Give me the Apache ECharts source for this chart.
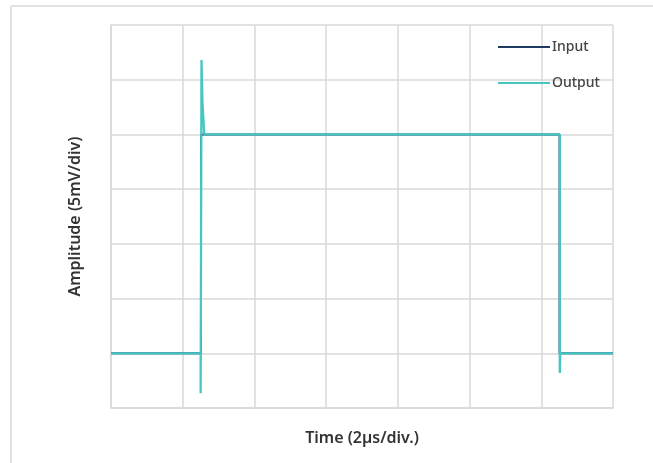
<!DOCTYPE html>
<html>
<head>
<meta charset="utf-8">
<script src="https://cdn.jsdelivr.net/npm/echarts@6/dist/echarts.min.js"></script>
<style>
html,body{margin:0;padding:0;background:#fff;}
#chart{width:653px;height:463px;}
</style>
</head>
<body>
<div id="chart"></div>
<script>
// Time in divisions (2 µs/div), amplitude in divisions (5 mV/div)
const inputTime  = [0, 1.255, 1.255, 6.255, 6.255, 7];
const inputAmp   = [1, 1, 5, 5, 1, 1];
const outputTime = [0, 1.25, 1.25, 1.262, 1.275, 1.30, 6.258, 6.258, 6.264, 6.267, 7];
const outputAmp  = [1, 1, 0.27, 6.36, 5.6, 5, 5, 0.64, 1, 1, 1];
const seriesNames = ['Input', 'Output'];
const xTitle = 'Time (2µs/div.)';
const yTitle = 'Amplitude (5mV/div)';

const pairs = (xs, ys) => xs.map((x, i) => [x, ys[i]]);
const grey = '#d9d9d9';
const chart = echarts.init(document.getElementById('chart'), null, {renderer: 'canvas'});
chart.setOption({
  animation: false,
  backgroundColor: '#ffffff',
  graphic: [
    {type: 'line', shape: {x1: 11, y1: 6, x2: 653, y2: 6}, style: {stroke: grey, lineWidth: 1.5}},
    {type: 'line', shape: {x1: 11, y1: 6, x2: 11, y2: 463}, style: {stroke: grey, lineWidth: 1.5}}
  ],
  legend: {
    orient: 'vertical',
    left: 493,
    top: 35,
    itemWidth: 52,
    itemHeight: 10,
    itemGap: 22,
    icon: 'path://M0,4 L52,4 L52,6 L0,6 Z',
    textStyle: {fontFamily: 'Noto Sans', fontSize: 14, fontWeight: 500, color: '#444', padding: [0, 0, 0, -3]},
    data: seriesNames
  },
  grid: {left: 111, right: 40, top: 25, bottom: 55},
  xAxis: {
    type: 'value', min: 0, max: 7, interval: 1,
    name: xTitle, nameLocation: 'middle', nameGap: 22,
    nameTextStyle: {fontFamily: 'Noto Sans', fontSize: 16, fontWeight: 600, color: '#333'},
    axisLine: {show: true, lineStyle: {color: grey, width: 1.5}},
    axisTick: {show: false}, axisLabel: {show: false},
    splitLine: {show: true, lineStyle: {color: grey, width: 1.5}}
  },
  yAxis: {
    type: 'value', min: 0, max: 7, interval: 1,
    name: yTitle, nameLocation: 'middle', nameGap: 28,
    nameTextStyle: {fontFamily: 'Noto Sans', fontSize: 16, fontWeight: 600, color: '#333'},
    axisLine: {show: true, lineStyle: {color: grey, width: 1.5}},
    axisTick: {show: false}, axisLabel: {show: false},
    splitLine: {show: true, lineStyle: {color: grey, width: 1.5}}
  },
  series: [
    {name: seriesNames[0], type: 'line', showSymbol: false, symbol: 'none',
     data: pairs(inputTime, inputAmp),
     lineStyle: {color: '#1f3a5f', width: 2}, itemStyle: {color: '#1f3a5f'}, z: 2},
    {name: seriesNames[1], type: 'line', showSymbol: false, symbol: 'none',
     data: pairs(outputTime, outputAmp),
     lineStyle: {color: '#45c6c2', width: 2.3}, itemStyle: {color: '#45c6c2'}, z: 3}
  ]
});
</script>
</body>
</html>
